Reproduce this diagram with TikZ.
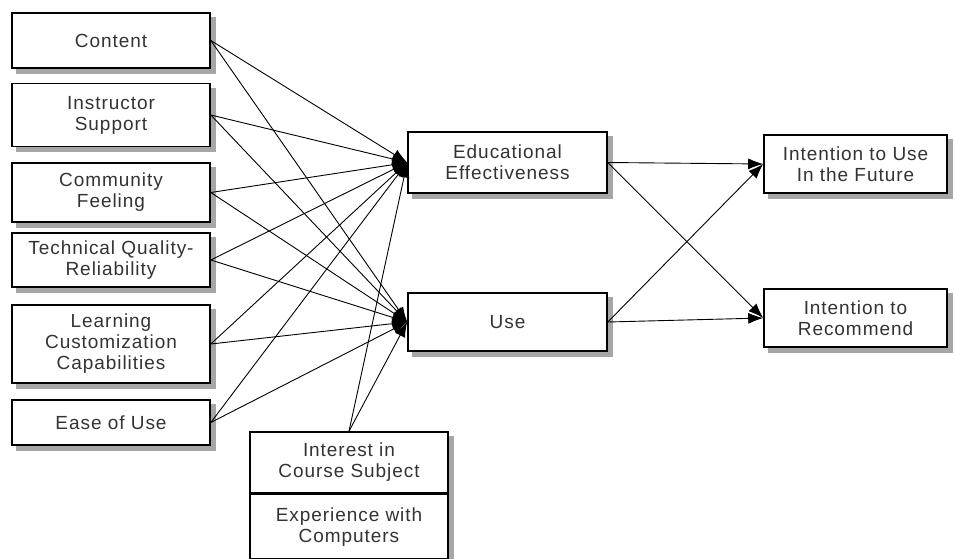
\documentclass[tikz,border=0pt]{standalone}
\usepackage{fontspec}
\setmainfont{Liberation Sans}[LetterSpace=5]
\usetikzlibrary{
    arrows.meta,
    backgrounds,
    positioning
}

\tikzset{
    factor/.style={draw, fill=white, rectangle, line width=1.6pt, align=center,
        minimum width=198pt, inner sep=2pt, text=black!80,
        font=\fontsize{19}{21}\selectfont},
    link/.style={-{Latex[length=15pt, width=11pt]}}
}

\begin{document}
\begin{tikzpicture}[x=1pt, y=-1pt]
                                \useasboundingbox (0, 0) rectangle (955, 559);
                                % left column
                                \node[factor, minimum height=55pt] (content) at (111, 40.5) {Content};
                                \node[factor, minimum height=63pt] (instructor) at (111, 115) {Instructor\\Support};
                                \node[factor, minimum height=59pt] (community) at (111, 192.5) {Community\\Feeling};
                                \node[factor, minimum height=54pt] (technical) at (111, 260) {Technical Quality-\\Reliability};
                                \node[factor, minimum height=78pt] (learning) at (111, 344) {Learning\\Customization\\Capabilities};
                                \node[factor, minimum height=45pt] (ease) at (111, 422.5) {Ease of Use};
                                % middle
                                \node[factor, minimum width=199pt, minimum height=61pt] (edu) at (507.5, 162.5) {Educational\\Effectiveness};
                                \node[factor, minimum width=199pt, minimum height=58pt] (use) at (507.5, 322) {Use};
                                \node[factor, minimum height=61pt] (interest) at (349, 462.5) {Interest in\\Course Subject};
                                \node[factor, minimum height=64pt, below=0pt of interest] (experience) {Experience with\\Computers};
                                % right column
                                \node[factor, minimum width=183pt, minimum height=58pt] (future) at (855.5, 164) {Intention to Use\\In the Future};
                                \node[factor, minimum width=183pt, minimum height=58pt] (recommend) at (855.5, 318) {Intention to\\Recommend};

                                % shadows
                                \begin{scope}[on background layer]
                                \foreach \factorname in {content, instructor, community, technical, learning, ease, edu, use, interest, experience, future, recommend}
                                    \fill[black!35] ([shift={(5pt, -5pt)}]\factorname.south west) rectangle ([shift={(5pt, -5pt)}]\factorname.north east);
                                \end{scope}

                                \draw[line width=0.9pt]
                                (content.east) edge[link] (edu.west)
                                (content.east) edge[link] (use.west)
                                (instructor.east) edge[link] (edu.west)
                                (instructor.east) edge[link] (use.west)
                                (community.east) edge[link] (edu.west)
                                (community.east) edge[link] (use.west)
                                (technical.east) edge[link] (edu.west)
                                (technical.east) edge[link] (use.west)
                                (learning.east) edge[link] (edu.west)
                                (learning.east) edge[link] (use.west)
                                (ease.east) edge[link] (edu.west)
                                (ease.east) edge[link] (use.west)
                                (interest.north) edge[link] (edu.west)
                                (interest.north) edge[link] (use.west)
                                (edu.east) edge[link] (future.west)
                                (edu.east) edge[link] (recommend.west)
                                (use.east) edge[link] (future.west)
                                (use.east) edge[link] (recommend.west);
                            \end{tikzpicture}
\end{document}
